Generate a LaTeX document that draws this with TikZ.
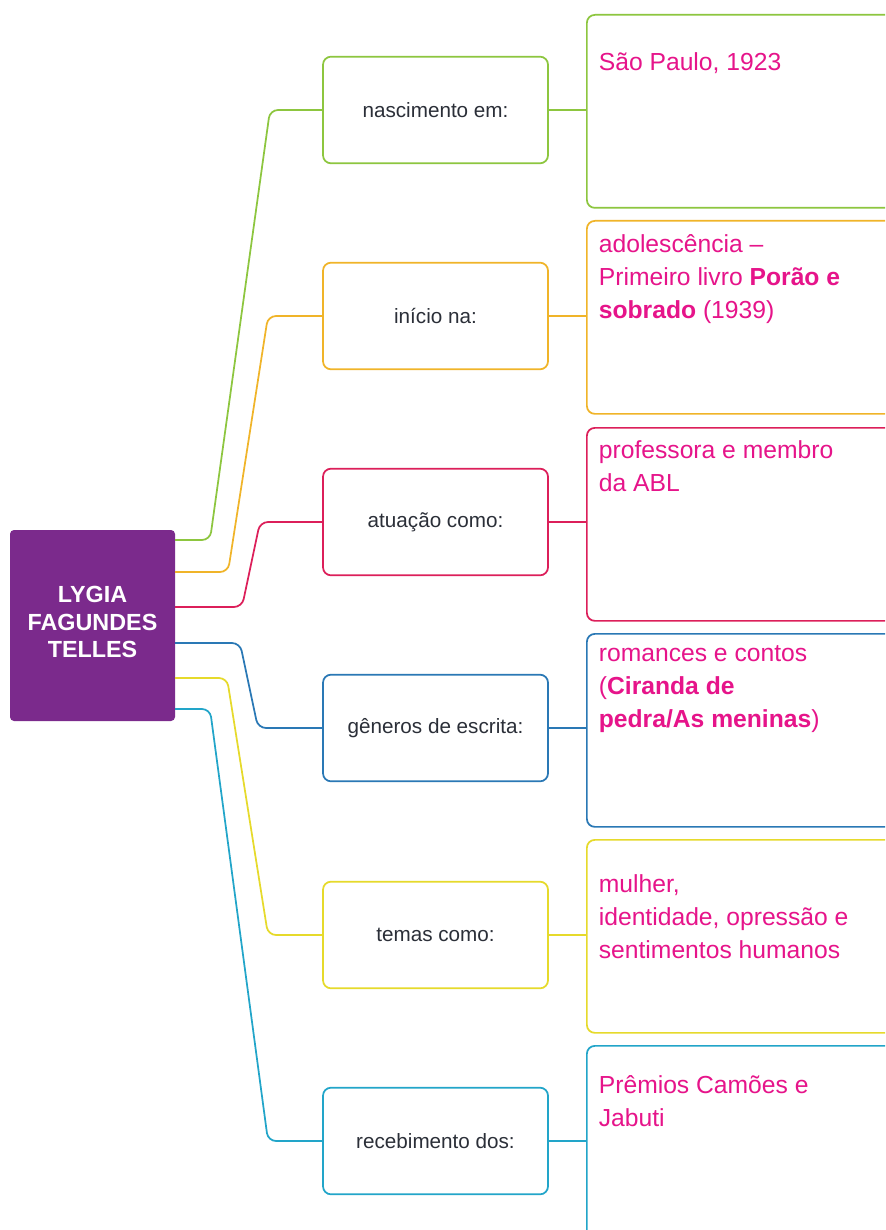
\documentclass[tikz,border=0pt]{standalone}
\usepackage{fontspec}
\setmainfont{Liberation Sans}
\usetikzlibrary{positioning}

\definecolor{lygia}{HTML}{7B2A8C}
\definecolor{cgreen}{HTML}{8DC63F}
\definecolor{corange}{HTML}{F0B429}
\definecolor{cred}{HTML}{DC1F5A}
\definecolor{cblue}{HTML}{2A78B5}
\definecolor{cyellow}{HTML}{E6DA2B}
\definecolor{ccyan}{HTML}{22A5C9}
\definecolor{pinktxt}{HTML}{E6148A}
\definecolor{midtxt}{HTML}{2B2F38}

\tikzset{
  mainbox/.style={fill=lygia, rounded corners=3pt, minimum width=123.75pt, minimum height=143.25pt},
  maintext/.style={text=white, align=center, font=\bfseries\fontsize{17.5}{20.5}\selectfont},
  midbox/.style={draw=#1, rounded corners=6pt, minimum width=168.75pt, minimum height=80pt,
    text=midtxt, font=\fontsize{15.5}{18}\selectfont},
  infobox/.style={draw=#1, rounded corners=6pt, minimum width=235.5pt, minimum height=144.75pt,
    anchor=north west},
  infotext/.style={text=pinktxt, align=left, anchor=north west, inner sep=0pt,
    font=\fontsize{18.5}{24.5}\selectfont},
}

\begin{document}
\begin{tikzpicture}[x=0.75pt,y=-0.75pt, line width=1.3pt]
	\clip (0,0) rectangle (885,1230);
	\fill[white] (0,0) rectangle (885,1230);

	\node[mainbox, label={[maintext, yshift=2.5pt]center:LYGIA\\FAGUNDES\\TELLES}] (main) at (92.5,625.5) {};

	% middle column
	\foreach \i/\y/\c/\t in {1/110/cgreen/nascimento em:, 2/316/corange/início na:,
	    3/522/cred/atuação como:, 4/728/cblue/gêneros de escrita:,
	    5/935/cyellow/temas como:, 6/1141/ccyan/recebimento dos:}
		\node[midbox=\c] (m\i) at (435.5,\y) {\t};

	% right column
	\foreach \i/\y/\c in {1/14/cgreen, 2/220/corange, 3/427/cred,
	    4/633/cblue, 5/839/cyellow, 6/1045/ccyan}
		\node[infobox=\c] (r\i) at (586,\y) {};

	\node[infotext] (t1) at (598,52) {São Paulo, 1923};
	\node[infotext] (t2) at (598,234) {adolescência –\\Primeiro livro \textbf{Porão e}\\\textbf{sobrado} (1939)};
	\node[infotext] (t3) at (598,440) {professora e membro\\da ABL};
	\node[infotext] (t4) at (598,645) {romances e contos\\(\textbf{Ciranda de}\\\textbf{pedra/As meninas})};
	\node[infotext] (t5) at (598,874) {mulher,\\identidade, opressão e\\sentimentos humanos};
	\node[infotext] (t6) at (598,1075) {Prêmios Camões e\\Jabuti};

	% start points on the main box
	\coordinate (s1) at (175,540);
	\coordinate (s2) at (175,572);
	\coordinate (s3) at (175,607);
	\coordinate (s4) at (175,643);
	\coordinate (s5) at (175,678);
	\coordinate (s6) at (175,709);

	\draw[cgreen, rounded corners=6pt] (s1) -- (210,540) -- (270,110) -- (m1.west);
	\draw[corange, rounded corners=6pt] (s2) -- (228,572) -- (268,316) -- (m2.west);
	\draw[cred, rounded corners=6pt] (s3) -- (242,607) -- (260,522) -- (m3.west);
	\draw[cblue, rounded corners=6pt] (s4) -- (240,643) -- (258,728) -- (m4.west);
	\draw[cyellow, rounded corners=6pt] (s5) -- (227,678) -- (268,935) -- (m5.west);
	\draw[ccyan, rounded corners=6pt] (s6) -- (210,709) -- (268,1141) -- (m6.west);

	\draw[cgreen] (m1.east) -- (m1.east -| r1.west);
	\draw[corange] (m2.east) -- (m2.east -| r2.west);
	\draw[cred] (m3.east) -- (m3.east -| r3.west);
	\draw[cblue] (m4.east) -- (m4.east -| r4.west);
	\draw[cyellow] (m5.east) -- (m5.east -| r5.west);
	\draw[ccyan] (m6.east) -- (m6.east -| r6.west);
\end{tikzpicture}
\end{document}
